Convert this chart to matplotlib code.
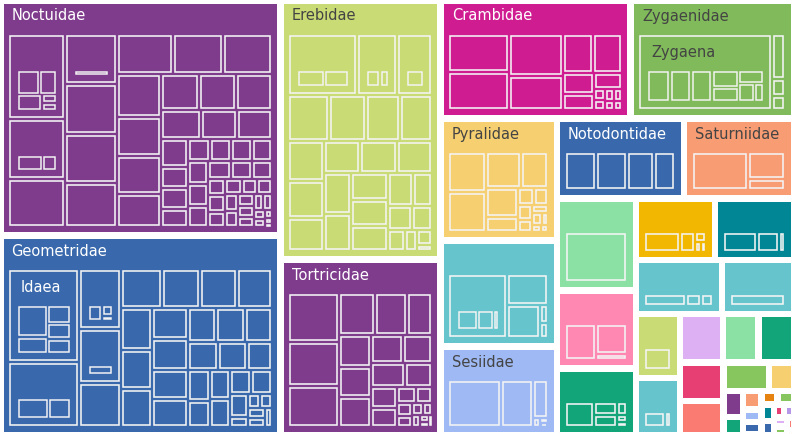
import numpy as np
import matplotlib.pyplot as plt
from matplotlib.patches import Rectangle

# families (None = label not shown in the chart)
families = ["Noctuidae", "Geometridae", "Erebidae", "Tortricidae", "Crambidae",
            "Zygaenidae", "Pyralidae", None, "Sesiidae", "Notodontidae",
            "Saturniidae", None, None, None, None, None, None, None, None, None,
            None, None, None, None, None, None, None,
            None, None, None, None, None, None, None, None, None, None, None,
            None, None, None, None]
family_values = [65800, 55720, 41440, 28000, 22420, 19234, 14152, 12296, 10208, 10160,
                 8800, 7268, 6162, 5214, 4819, 4819, 4644, 3888, 2816, 2508,
                 2064, 1710, 1700, 1660, 1462, 1288, 700,
                 513, 342, 341, 234, 233, 221, 220, 208, 176, 130, 128, 110, 104, 88, 30]

bold = ["#7f3c8d", "#11a579", "#3969ac", "#f2b701", "#e73f74", "#80ba5a",
        "#e68310", "#008695", "#cf1c90", "#f97b72"]
pastel = ["#66c5cc", "#f6cf71", "#f89c74", "#dcb0f2", "#87c55f", "#9eb9f3",
          "#fe88b1", "#c9db74", "#8be0a4", "#b497e7"]
family_colors = [bold[0], bold[2], pastel[7], bold[0], bold[8], bold[5], pastel[1],
                 pastel[0], pastel[5], bold[2], pastel[2], pastel[8], pastel[6],
                 bold[1], bold[3], bold[7], pastel[0], pastel[0], pastel[7], pastel[0],
                 pastel[3], pastel[8], bold[1], bold[4], bold[9], pastel[4], pastel[1],
                 bold[0], bold[1], pastel[2], pastel[5], bold[2], bold[6], pastel[4],
                 bold[7], bold[2], bold[4], pastel[9], pastel[3], pastel[4], bold[9], bold[6]]

# genus values inside each family (same order as families)
genus_values = [
    [4845, 3477, 2736, 2652, 2600, 2600, 2340, 2240, 2040, 1960, 1892, 1720, 1677,
     1440, 1419, 1368, 1296, 1189, 1044, 1015,
     760, 600, 560, 520, 480, 470, 460, 450, 440, 430, 420, 400, 370, 340, 300, 290,
     280, 260, 240, 230, 220, 200, 190, 180, 170, 150, 130, 110, 90, 60, 40, 20],
    [6461, 4473, 2478, 2226, 1806, 1558, 1482, 1406, 1330, 1271, 1209, 1147, 1085,
     1050, 1015, 960, 950, 940, 900, 850, 800, 700, 680, 580, 540, 530, 490, 470,
     420, 180, 170, 160, 150, 140, 130],
    [4148, 2440, 2135, 1845, 1620, 1530, 1440, 1400, 1330, 1155, 1150, 1145, 1120,
     1100, 1015, 986, 950, 900, 841, 609, 567, 486, 360, 234, 216, 100],
    [2496, 2184, 2080, 1500, 1290, 1056, 1024, 936, 928, 884, 816, 792, 650, 546,
     468, 306, 250, 200, 160, 130, 110, 90, 60, 40, 30],
    [2200, 2180, 2170, 1800, 1110, 1080, 609, 493, 434, 120, 110, 100, 90, 80, 70],
    [10032, 572, 208, 182],
    [1490, 1480, 1225, 945, 896, 480, 255, 225, 195, 169, 130, 117, 72, 63, 55],
    [3540, 1189, 1054, 136, 120],
    [2295, 1395, 544, 60, 40, 30],
    [1180, 1150, 1036, 777],
    [2072, 962, 407],
    [1],
    [1020, 837, 186],
    [483, 189, 180, 91, 48, 30],
    [448, 182, 72, 42, 30],
    [434, 280, 70],
    [360, 126, 108],
    [1],
    [1],
    [198, 66],
] + [[] for _ in range(22)]

genus_labels = {(1, 0): "Idaea", (5, 0): "Zygaena"}

# species values inside some genera: (family index, genus index) -> values
species_values = {
    (0, 0): [506, 391, 368, 112, 98],
    (0, 1): [345, 196],
    (0, 3): [1],
    (1, 0): [900, 480, 390, 345, 320],
    (1, 1): [510, 357],
    (1, 2): [60, 30, 15],
    (1, 3): [1],
    (2, 0): [364, 322],
    (2, 1): [80, 50],
    (2, 2): [1],
    (5, 0): [620, 589, 589, 403, 345, 299, 256, 156],
    (7, 0): [266, 210, 70],
}

W, H = 793, 434
PX = 0.72  # points per pixel at dpi 100


def squarify(values, x0, y0, x1, y1, ratio=1.0):
    n = len(values)
    rects = [None] * n
    value = float(sum(values))
    i0 = i1 = 0
    while i0 < n:
        dx, dy = x1 - x0, y1 - y0
        sum_v = values[i1]
        i1 += 1
        min_v = max_v = sum_v
        alpha = max(dy / dx, dx / dy) / (value * ratio)
        beta = sum_v * sum_v * alpha
        min_ratio = max(max_v / beta, beta / min_v)
        while i1 < n:
            nv = values[i1]
            s = sum_v + nv
            beta = s * s * alpha
            new_ratio = max(max(max_v, nv) / beta, beta / min(min_v, nv))
            if new_ratio > min_ratio:
                break
            sum_v = s
            min_v, max_v = min(min_v, nv), max(max_v, nv)
            min_ratio = new_ratio
            i1 += 1
        if dx < dy:
            h = dy * sum_v / value
            xx = x0
            for k in range(i0, i1):
                w = dx * values[k] / sum_v
                rects[k] = (xx, y0, xx + w, y0 + h)
                xx += w
            y0 += h
        else:
            w = dx * sum_v / value
            yy = y0
            for k in range(i0, i1):
                h = dy * values[k] / sum_v
                rects[k] = (x0, yy, x0 + w, yy + h)
                yy += h
            x0 += w
        value -= sum_v
        i0 = i1
    return rects


def tile(values, box, pad, gap):
    # pad = (left, top, right, bottom) inside box, gap between siblings
    x0, y0, x1, y1 = box
    p = gap / 2.0
    x0, y0, x1, y1 = x0 + pad[0] - p, y0 + pad[1] - p, x1 - pad[2] + p, y1 - pad[3] + p
    if x1 - x0 <= 2 * p + 1 or y1 - y0 <= 2 * p + 1:
        return None
    out = []
    for r in squarify(values, x0, y0, x1, y1):
        out.append((r[0] + p, r[1] + p, r[2] - p, r[3] - p))
    return out


def text_color(c):
    r, g, b = [int(c[i:i + 2], 16) for i in (1, 3, 5)]
    return "#444444" if (r * 299 + g * 587 + b * 114) / 1000 > 140 else "white"


fig = plt.figure(figsize=(W / 100, H / 100), dpi=100)
ax = fig.add_axes([0, 0, 1, 1])
ax.set_xlim(0, W)
ax.set_ylim(H, 0)
ax.axis("off")

fam_rects = tile(family_values, (0, 0, W, H), (2.5, 2.5, 2.5, 2.5), 5.5)
for fi, (x0, y0, x1, y1) in enumerate(fam_rects):
    col = family_colors[fi]
    ax.add_patch(Rectangle((x0, y0), x1 - x0, y1 - y0, facecolor=col,
                           edgecolor="white", lw=1 * PX))
    if families[fi]:
        ax.text(x0 + 9, y0 + 18, families[fi], color=text_color(col),
                fontsize=10.5, va="baseline", ha="left")
    if not genus_values[fi]:
        continue
    g_rects = tile(genus_values[fi], (x0, y0, x1, y1), (7.5, 33.5, 7.5, 7), 4)
    if g_rects is None:
        continue
    for gi, (gx0, gy0, gx1, gy1) in enumerate(g_rects):
        ax.add_patch(Rectangle((gx0, gy0), gx1 - gx0, gy1 - gy0, facecolor="none",
                               edgecolor="#f4f4f4", lw=1.6 * PX))
        if (fi, gi) in genus_labels:
            ax.text(gx0 + 10.5, gy0 + 20.5, genus_labels[(fi, gi)],
                    color=text_color(col), fontsize=10.5, va="baseline", ha="left")
        if (fi, gi) in species_values:
            s_rects = tile(species_values[(fi, gi)], (gx0, gy0, gx1, gy1),
                           (9, 36, 8, 8), 3.5)
            if s_rects is None:
                continue
            for sx0, sy0, sx1, sy1 in s_rects:
                ax.add_patch(Rectangle((sx0, sy0), sx1 - sx0, sy1 - sy0,
                                       facecolor="none", edgecolor="#f4f4f4",
                                       lw=1.5 * PX))

fig.savefig("out.png", dpi=100)
